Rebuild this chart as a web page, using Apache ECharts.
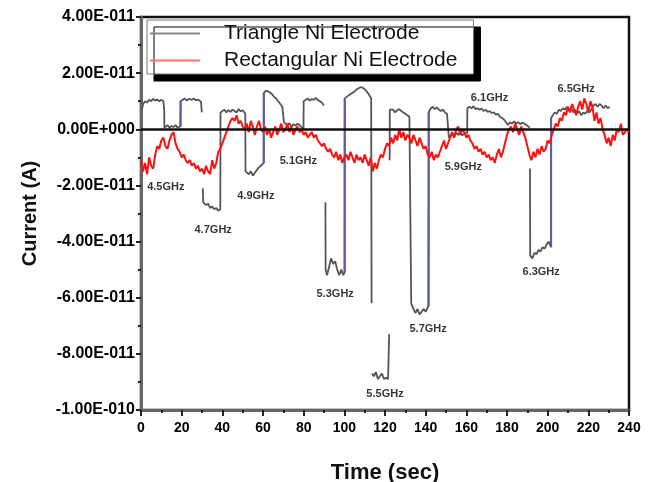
<!DOCTYPE html>
<html>
<head>
<meta charset="utf-8">
<script src="https://cdn.jsdelivr.net/npm/echarts@6/dist/echarts.min.js"></script>
<style>
  html, body { margin: 0; padding: 0; background: #fff; }
  #chart { width: 664px; height: 482px; }
</style>
</head>
<body>
<div id="chart"></div>
<script>
// Currents are stored in pA (1e-12 A); axis labels convert back to amperes.

// Triangle Ni electrode: time (s) and current (pA); null marks a break between sweeps
const triT = [0.5,1,2,3,4,5,6,7,8,9,10,11,11.4,11.5,
  12,13,14,15,16,17,18,19.3,19.5,
  20.5,21.5,22.5,23.5,25,26,27,28,29.5,29.9,30.1,
  30.4,30.6,32,33,34,35,36,37,38,39,39.1,
  40,41,42,43,44,45,46,47,48,49,50,51.3,51.4,
  52,53,54,55,56,57,58,59,60.3,60.4,
  61.5,62.5,63.5,64.5,65.5,66.5,67.5,68.5,69.5,70.2,70.3,
  71,72,73,74,75,76,77,78,79.9,80,
  81,82,83,84,85,86,87,88,89,89.9,90.3,
  90.7,90.8,91.5,92.5,93.5,94.5,95.5,96.5,97.5,98.5,99.5,100.1,100.2,
  101,102,103,104,105,106,107,108,109,110,111,112,113.2,113.4,113.5,
  113.6,114.5,115.5,116.5,117.5,118.5,119.5,120.5,121.5,122,122.05,122.1,
  122.3,122.35,123,124,125,126,127,128,129,130,131,132,132.8,132.9,
  134,135,136,137,138,139,140,141.3,141.5,
  142.5,143.5,144.5,145.5,146.5,147.5,148.5,149.5,150.5,151.3,151.4,
  152,153,154,155,156,157,158,159,160.4,160.5,
  161.5,162.5,163.5,164.5,165.5,166.5,167.5,168.5,169.5,170.5,171.5,172.5,173.5,174.5,175.5,
  176.5,177.5,178.5,179.5,180.5,181.5,182.5,183.5,184.5,185.5,186.5,187.5,188.5,189.5,190.5,191.2,191.25,
  191.3,191.4,192.5,193.5,194.5,195.5,196.5,197.5,198.5,199.5,200.5,201.6,201.7,
  202.5,203.5,204.5,205.5,206.5,207.5,208.5,209.5,210.5,211.5,212.5,213.5,214.5,215.5,216.5,
  217.5,218.5,219.5,220.5,221.5,222.5,223.5,224.5,225.5,226.5,227.5,228.5,229.5,230.5];
const triV = [7,9,10,9.5,10.5,10,10.8,10.2,10.6,10,10.5,10,7,0.5,
  1,1.5,0.5,1.2,0.8,1.5,0.6,1,10,
  10.5,11,10.2,10.8,10.5,11,10.3,10.6,9.8,6,null,
  -21,-26,-27,-26.5,-28,-27.5,-28.5,-28,-29,-28.5,6,
  6.5,7,6,6.8,6.2,7,6.5,6,7.2,6.4,6.8,5.5,-15,
  -15.5,-16,-15,-16.5,-15.5,-14.5,-13.5,-13,-12,13,
  13.8,13.5,13,12.5,11.5,11,10,9,8,7.5,2.5,
  2,1.5,2.2,1,1.8,1.2,2,1.5,0,10,
  10.5,11,10.2,10.8,10.5,11.2,10.4,10,9.5,8.5,null,
  -26,-50,-52,-49,-46,-48,-47,-50,-52,-50,-52,-51,11,
  11.5,12,12.5,13,13.5,14.2,14.6,15,14.8,14.2,13.5,12.5,11,-62,null,
  -87,-88,-86.5,-89,-88,-87,-89,-88.5,-89,-89,-73,null,
  -11,7,7.5,7,6,6.8,7.2,6.5,6,5.5,5,4.5,4,-62,
  -64,-65.5,-64,-66,-65,-64,-65,-63,6,
  7.5,8,7.2,7.8,7,6.5,7,6,5.5,5,-3,
  -2.5,-1.5,-2.8,-1.2,-2,-1,-2.2,-1.5,-1.4,7.5,
  8,7.5,8.2,7.2,7.5,7,7.4,6.5,7,6.2,6.5,5.8,6,5.2,5.5,
  4.5,4,3.5,2.5,1.5,2.5,2,2.8,2,2.6,1.8,2.4,2,1.5,1,0.5,null,
  -14,-45,-46,-44,-44.5,-43,-43.5,-42,-42.5,-41,-40,-42,4,
  5,6,5.5,7,6.5,7.5,7,8,6.5,7.5,6,7,5.5,6.5,5,
  6,5.5,6.5,6,7,8.5,9,8,9,8.5,7.5,8.5,7.5,8];

// Rising edges of the triangle sweeps (drawn in blue): time, start and end current (pA)
const edgeT = [19.5, 60.4, 100.2, 141.5, 201.7];
const edgeFrom = [1, -12, -51, -63, -42];
const edgeTo = [10, 13, 11, 6, 4];

// Rectangular Ni electrode: current (pA) sampled once per second from 0 s to 240 s
const rectV = [
  -11,-15,-12,-16,-10,-13,-14,-9,-6,-7,
  -4,-3,-6,-7,-4,-2,-1,-5,-7,-8,
  -10,-9,-11,-12,-11,-13,-12,-14,-13,-15,
  -14,-16,-13,-15,-16,-11,-14,-12,-8,-7,
  -5,-3,-1,1,3,4,3,5,2,3,
  1,0,2,-1,3,1,-2,1,3,0,
  -1,1,-2,0,-3,-1,1,-2,0,2,
  -1,0,2,-1,1,-2,0,1,-1,0,
  -2,-1,-3,-2,-1,-3,-2,-4,-5,-6,
  -5,-7,-8,-7,-9,-10,-8,-11,-9,-12,
  -10,-9,-11,-8,-10,-12,-9,-11,-10,-12,
  -9,-11,-13,-10,-15,-12,-14,-11,-9,-10,
  -7,-5,-6,-3,-5,-2,-4,0,-3,-1,
  -4,-2,-3,-5,-2,-4,-6,-3,-5,-7,
  -6,-9,-10,-8,-11,-9,-10,-8,-6,-4,
  -7,-5,-3,-1,-3,0,1,-2,0,-1,
  -3,-2,-4,-5,-7,-6,-8,-7,-9,-8,
  -10,-9,-11,-10,-12,-9,-7,-10,-8,-5,
  -2,0,1,-1,2,0,-2,1,-1,-3,
  -6,-9,-11,-8,-10,-7,-9,-6,-8,-7,
  -4,-5,-2,0,2,1,4,3,6,5,
  8,6,9,7,5,8,10,7,11,9,
  6,10,8,3,6,2,4,0,-2,-5,
  -3,-6,-2,-4,0,-1,2,-2,-1,0,
  -1];

// Frequency annotations: text and anchor (time s, current pA)
const freqText = ['4.5GHz','4.7GHz','4.9GHz','5.1GHz','5.3GHz','5.5GHz','5.7GHz','5.9GHz','6.1GHz','6.3GHz','6.5GHz'];
const freqT = [12.2, 35.5, 56.5, 77.4, 95.5, 120, 141.2, 158.5, 171.4, 196.8, 214];
const freqV = [-20.7, -35.7, -23.6, -11.4, -58.6, -94.3, -71, -13.6, 11, -51, 14.3];

// Axis ranges
const xMin = 0, xMax = 240, xStep = 20;
const yMin = -100, yMax = 40, yStep = 20;

function sci(v) {
  if (v === 0) return '0.00E+000';
  const a = v * 1e-12;
  const e = Math.floor(Math.log10(Math.abs(a)) + 1e-9);
  const m = a / Math.pow(10, e);
  return m.toFixed(2) + 'E' + (e < 0 ? '-' : '+') + String(Math.abs(e)).padStart(3, '0');
}

const triData = triT.map((t, i) => [t, triV[i]]);
const edgeData = [];
edgeT.forEach((t, i) => {
  edgeData.push([t, edgeFrom[i]], [t, edgeTo[i]], [t, null]);
});
const rectData = rectV.map((v, i) => [i, v]);
const freqData = freqT.map((t, i) => ({ value: [t, freqV[i]], name: freqText[i] }));

const font = '"Liberation Sans", Arial, sans-serif';
const chart = echarts.init(document.getElementById('chart'), null, { renderer: 'canvas' });

chart.setOption({
  animation: false,
  backgroundColor: '#fff',
  grid: {
    left: 141, right: 35, top: 17, bottom: 72,
    outerBoundsMode: 'none', containLabel: false,
    show: true, borderColor: '#111', borderWidth: 2.5, backgroundColor: 'transparent'
  },
  legend: {
    left: 147, top: 20,
    orient: 'vertical',
    data: [
      { name: 'Triangle Ni Electrode', itemStyle: { color: '#888' } },
      { name: 'Rectangular Ni Electrode', itemStyle: { color: '#ff7070' } }
    ],
    icon: 'rect',
    itemWidth: 50, itemHeight: 2, itemGap: 6,
    padding: [3, 16, 3, 3],
    backgroundColor: '#fff',
    borderColor: '#777', borderWidth: 1,
    shadowColor: '#000', shadowBlur: 0, shadowOffsetX: 7, shadowOffsetY: 7,
    textStyle: { fontFamily: font, fontSize: 21, color: '#111', padding: [0, 0, 0, 19] }
  },
  xAxis: {
    type: 'value', min: xMin, max: xMax, interval: xStep,
    name: 'Time (sec)', nameLocation: 'middle', nameGap: 52,
    nameTextStyle: { fontFamily: font, fontWeight: 'bold', fontSize: 22, color: '#111' },
    axisLine: { show: true, onZero: false, lineStyle: { color: '#666', width: 3 } },
    axisTick: { show: true, length: 6, lineStyle: { color: '#222', width: 2 } },
    minorTick: { show: true, splitNumber: 2, length: 3, lineStyle: { color: '#222', width: 2 } },
    splitLine: { show: false },
    axisLabel: { margin: 11, fontFamily: font, fontWeight: 'bold', fontSize: 14, color: '#000' }
  },
  yAxis: {
    type: 'value', min: yMin, max: yMax, interval: yStep,
    name: 'Current (A)', nameLocation: 'middle', nameGap: 101, nameRotate: 90,
    nameTextStyle: { fontFamily: font, fontWeight: 'bold', fontSize: 20, color: '#111' },
    axisLine: { show: true, onZero: false, lineStyle: { color: '#666', width: 3 } },
    axisTick: { show: true, length: 5, lineStyle: { color: '#222', width: 2 } },
    minorTick: { show: true, splitNumber: 2, length: 3, lineStyle: { color: '#222', width: 2 } },
    splitLine: { show: false },
    axisLabel: { margin: 6, formatter: sci, fontFamily: font, fontWeight: 'bold', fontSize: 16, color: '#000' }
  },
  series: [
    {
      name: 'Triangle Ni Electrode', type: 'line', data: triData,
      showSymbol: false, connectNulls: false,
      lineStyle: { color: '#555', width: 1.8 }, itemStyle: { color: '#555' },
      markLine: {
        silent: true, symbol: 'none', label: { show: false },
        lineStyle: { color: '#111', width: 2.5, type: 'solid' },
        data: [{ yAxis: 0 }]
      },
      z: 2
    },
    {
      name: 'edges', type: 'line', data: edgeData,
      showSymbol: false, connectNulls: false,
      lineStyle: { color: '#5a5ea8', width: 2 }, z: 3
    },
    {
      name: 'Rectangular Ni Electrode', type: 'line', data: rectData,
      showSymbol: false,
      lineStyle: { color: '#ff1010', width: 2 }, itemStyle: { color: '#ff1010' }, z: 4
    },
    {
      name: 'freq', type: 'scatter', data: freqData,
      symbolSize: 0,
      label: {
        show: true, position: 'inside', formatter: p => p.name,
        fontFamily: font, fontWeight: 'bold', fontSize: 11, color: '#000'
      },
      z: 5
    }
  ]
});
</script>
</body>
</html>
